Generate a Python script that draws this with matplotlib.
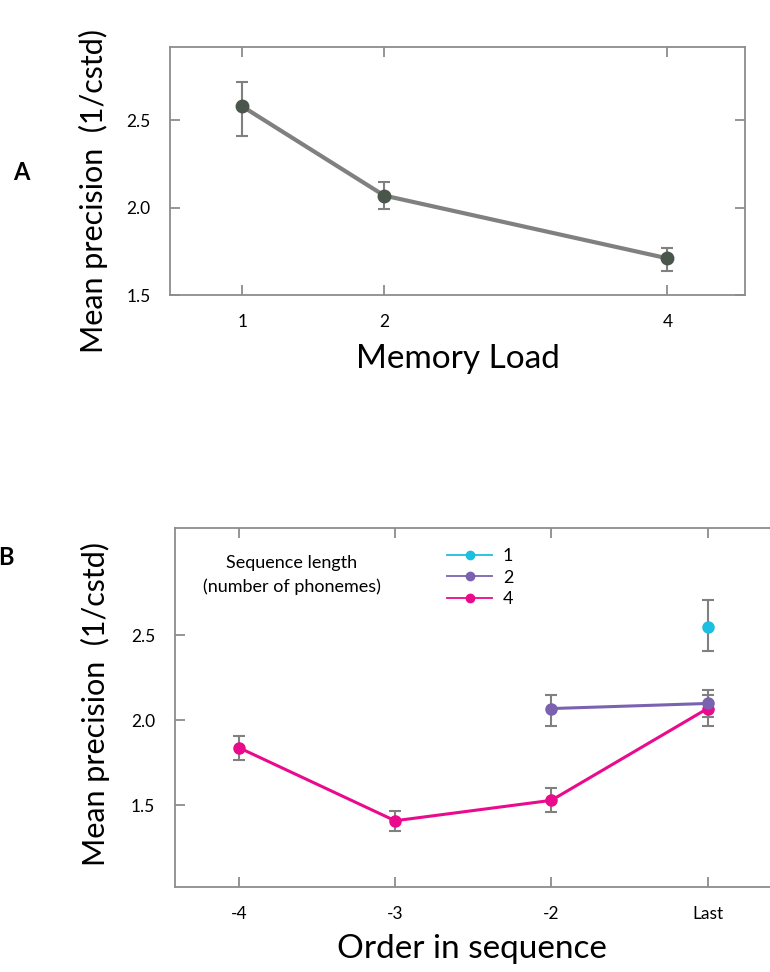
import matplotlib
matplotlib.use("Agg")
import matplotlib.pyplot as plt
from matplotlib.lines import Line2D

plt.rcParams['font.family'] = ['Lato', 'DejaVu Sans']

# Panel A data
load = [1, 2, 4]
precA = [2.58, 2.07, 1.71]
precA_lo = [2.41, 1.99, 1.64]
precA_hi = [2.72, 2.15, 1.77]

# Panel B data
order_labels = ['-4', '-3', '-2', 'Last']
order_pos = [1, 2, 3, 4]
len1_pos = [4]
len1 = [2.55]
len1_lo = [2.41]
len1_hi = [2.71]
len2_pos = [3, 4]
len2 = [2.07, 2.10]
len2_lo = [1.97, 2.02]
len2_hi = [2.15, 2.18]
len4_pos = [1, 2, 3, 4]
len4 = [1.84, 1.41, 1.53, 2.07]
len4_lo = [1.77, 1.35, 1.46, 1.97]
len4_hi = [1.91, 1.47, 1.60, 2.15]

spine_c = '#8c8c8c'
err_c = '#808080'

fig = plt.figure(figsize=(7.7, 9.72), dpi=100)

def yerr(v, lo, hi):
    return [[a - b for a, b in zip(v, lo)], [b - a for a, b in zip(v, hi)]]

# ---- Panel A ----
axA = fig.add_axes([0.221, 0.6965, 0.747, 0.255])
axA.errorbar(load, precA, yerr=yerr(precA, precA_lo, precA_hi), fmt='none',
             ecolor=err_c, elinewidth=1.5, capsize=4, capthick=1.5, zorder=2)
axA.plot(load, precA, color='#808080', lw=3, zorder=3)
axA.plot(load, precA, 'o', color='#4a554c', ms=9, zorder=4)
axA.set_xlim(0.49, 4.55)
axA.set_ylim(1.5, 2.92)
axA.set_xticks(load)
axA.set_xticklabels([str(v) for v in load])
axA.set_yticks([1.5, 2.0, 2.5])
axA.set_yticklabels(['1.5', '2.0', '2.5'])
axA.tick_params(direction='in', length=7, width=1.3, color=spine_c,
                top=True, right=True, labelsize=12.5, pad=14)
for s in axA.spines.values():
    s.set_color(spine_c)
    s.set_linewidth(1.3)
axA.set_ylabel('Mean precision  (1/cstd)', fontsize=22)
axA.yaxis.set_label_coords(-0.108, 0.42)
axA.set_xlabel('Memory Load', fontsize=24, labelpad=10)
fig.text(0.028, 0.823, 'A', fontsize=17, fontweight='bold', ha='center', va='center')

# ---- Panel B ----
axB = fig.add_axes([0.227, 0.0874, 0.773, 0.369])
axB.errorbar(len4_pos, len4, yerr=yerr(len4, len4_lo, len4_hi), fmt='none',
             ecolor=err_c, elinewidth=1.5, capsize=4, capthick=1.5, zorder=2)
axB.errorbar(len2_pos, len2, yerr=yerr(len2, len2_lo, len2_hi), fmt='none',
             ecolor=err_c, elinewidth=1.5, capsize=4, capthick=1.5, zorder=2)
axB.errorbar(len1_pos, len1, yerr=yerr(len1, len1_lo, len1_hi), fmt='none',
             ecolor=err_c, elinewidth=1.5, capsize=4, capthick=1.5, zorder=2)
c1, c2, c4 = '#1bbfe0', '#7b62b0', '#ea0a8c'
axB.plot(len4_pos, len4, '-o', color=c4, lw=2.2, ms=8, zorder=3)
axB.plot(len2_pos, len2, '-o', color=c2, lw=2.2, ms=8, zorder=4)
axB.plot(len1_pos, len1, 'o', color=c1, ms=8, zorder=5)
axB.set_xlim(0.59, 4.4)
axB.set_ylim(1.02, 3.13)
axB.set_xticks(order_pos)
axB.set_xticklabels(order_labels)
axB.set_yticks([1.5, 2.0, 2.5])
axB.set_yticklabels(['1.5', '2.0', '2.5'])
axB.tick_params(direction='in', length=7, width=1.3, color=spine_c,
                top=True, right=False, labelsize=12.5, pad=14)
for s in axB.spines.values():
    s.set_color(spine_c)
    s.set_linewidth(1.3)
axB.spines['right'].set_visible(False)
axB.set_ylabel('Mean precision  (1/cstd)', fontsize=22)
axB.yaxis.set_label_coords(-0.109, 0.51)
axB.set_xlabel('Order in sequence', fontsize=24, labelpad=8)
fig.text(0.008, 0.426, 'B', fontsize=17, fontweight='bold', ha='center', va='center')

handles = [Line2D([], [], color=c, marker='o', ms=6, lw=1.3) for c in (c1, c2, c4)]
leg = axB.legend(handles, ['1', '2', '4'], loc='upper left',
                 bbox_to_anchor=(0.43, 0.99), frameon=False, fontsize=13,
                 handlelength=2.5, labelspacing=0.3, handletextpad=0.6)
axB.text(0.197, 0.87, 'Sequence length\n(number of phonemes)', transform=axB.transAxes,
         fontsize=13, ha='center', va='center', linespacing=1.6)

fig.savefig('out.png', dpi=100)
